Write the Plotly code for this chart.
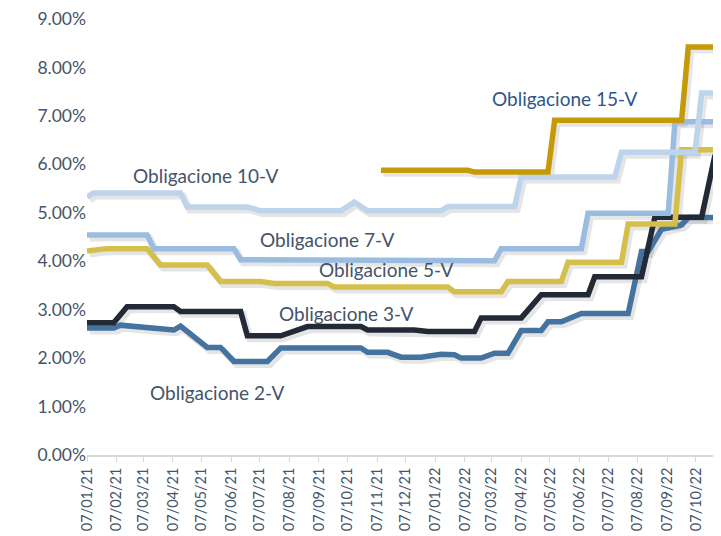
import plotly.graph_objects as go

# ---- data (yields in %, vertices) ----
d_2v = ["2021-01-07","2021-02-04","2021-02-11","2021-04-08","2021-04-15","2021-05-13","2021-05-27",
        "2021-06-10","2021-07-15","2021-07-29","2021-10-21","2021-10-28","2021-11-18","2021-12-02",
        "2021-12-23","2022-01-13","2022-01-27","2022-02-03","2022-02-24","2022-03-10","2022-03-24",
        "2022-04-07","2022-04-28","2022-05-05","2022-05-19","2022-06-09","2022-07-28","2022-08-11",
        "2022-08-18","2022-09-01","2022-09-22","2022-09-29","2022-10-27"]
v_2v = [2.62,2.62,2.68,2.58,2.66,2.22,2.22,1.93,1.93,2.21,2.21,2.12,2.12,2.02,2.02,2.08,2.07,2.00,
        2.00,2.10,2.10,2.57,2.57,2.75,2.75,2.92,2.92,4.20,4.20,4.66,4.75,4.90,4.90]

d_3v = ["2021-01-07","2021-02-04","2021-02-18","2021-04-08","2021-04-15","2021-06-17","2021-06-24",
        "2021-07-29","2021-08-26","2021-10-21","2021-10-28","2021-12-16","2021-12-30","2022-02-17",
        "2022-02-24","2022-04-07","2022-04-28","2022-06-16","2022-06-23","2022-08-11","2022-08-25",
        "2022-10-13","2022-10-27"]
v_3v = [2.73,2.73,3.06,3.06,2.96,2.96,2.46,2.46,2.65,2.65,2.58,2.58,2.55,2.55,2.83,2.83,3.31,3.31,
        3.68,3.68,4.91,4.91,6.19]

d_5v = ["2021-01-07","2021-01-28","2021-03-11","2021-03-25","2021-05-13","2021-05-27","2021-07-08",
        "2021-07-22","2021-09-16","2021-09-23","2022-01-20","2022-01-27","2022-03-17","2022-03-24",
        "2022-05-19","2022-05-26","2022-07-21","2022-07-28","2022-09-15","2022-09-22","2022-10-27"]
v_5v = [4.21,4.26,4.26,3.92,3.92,3.58,3.58,3.54,3.54,3.47,3.47,3.37,3.37,3.58,3.58,3.98,3.98,4.77,
        4.77,6.30,6.30]

d_7v = ["2021-01-07","2021-03-11","2021-03-18","2021-06-10","2021-06-17","2022-03-10","2022-03-17",
        "2022-06-09","2022-06-16","2022-09-08","2022-09-15","2022-10-27"]
v_7v = [4.54,4.54,4.26,4.26,4.03,4.01,4.26,4.26,4.99,4.99,6.88,6.88]

d_10v = ["2021-01-07","2021-01-14","2021-04-15","2021-04-22","2021-06-24","2021-07-08","2021-09-30",
         "2021-10-14","2021-10-28","2022-01-13","2022-01-20","2022-03-31","2022-04-07","2022-07-14",
         "2022-07-21","2022-10-06","2022-10-13","2022-10-27"]
v_10v = [5.33,5.41,5.41,5.12,5.12,5.04,5.04,5.22,5.04,5.04,5.13,5.13,5.74,5.74,6.25,6.25,7.47,7.47]

d_15v = ["2021-11-11","2022-02-10","2022-02-17","2022-05-05","2022-05-12","2022-09-22","2022-09-29",
         "2022-10-27"]
v_15v = [5.88,5.88,5.84,5.84,6.91,6.91,8.42,8.42]

series_names = ["Obligacione 2-V","Obligacione 3-V","Obligacione 5-V",
                "Obligacione 7-V","Obligacione 10-V","Obligacione 15-V"]
y_ticks = [0,1,2,3,4,5,6,7,8,9]
y_ticktext = ["0.00%","1.00%","2.00%","3.00%","4.00%","5.00%","6.00%","7.00%","8.00%","9.00%"]

# ---- styling ----
colors = ["#44739F", "#222A36", "#D5BF4B", "#9BBCE1", "#BED3EC", "#C49A06"]
data = [(d_2v, v_2v), (d_3v, v_3v), (d_5v, v_5v), (d_7v, v_7v), (d_10v, v_10v), (d_15v, v_15v)]

fig = go.Figure()
# soft drop shadows: same series drawn on a hidden base axis pair whose ranges are nudged
for (xs, ys), name in zip(data, series_names):
    fig.add_trace(go.Scatter(x=xs, y=ys, mode="lines", xaxis="x", yaxis="y",
                             line=dict(color="rgba(0,0,0,0.10)", width=7),
                             showlegend=False, hoverinfo="skip"))
# the visible series on the overlaying axis pair
for (xs, ys), name, col in zip(data, series_names, colors):
    fig.add_trace(go.Scatter(x=xs, y=ys, mode="lines", name=name, xaxis="x2", yaxis="y2",
                             line=dict(color=col, width=5.5), showlegend=False,
                             hoverinfo="x+y+name"))

label_pos = {
    "Obligacione 2-V": (0.207, 0.144),
    "Obligacione 3-V": (0.412, 0.324),
    "Obligacione 5-V": (0.476, 0.425),
    "Obligacione 7-V": (0.382, 0.495),
    "Obligacione 10-V": (0.188, 0.642),
    "Obligacione 15-V": (0.761, 0.817),
}
for name in series_names:
    px_, py_ = label_pos[name]
    fig.add_annotation(x=px_, y=py_, xref="paper", yref="paper", text=name, showarrow=False,
                       xanchor="center", yanchor="middle",
                       font=dict(family="Lato", size=19,
                                 color="#2E5788" if name.endswith("15-V") else "#44546A"))

fig.update_layout(
    width=713, height=528,
    margin=dict(l=79, r=6, t=11, b=81, pad=0, autoexpand=False),
    paper_bgcolor="white", plot_bgcolor="white",
    font=dict(family="Lato", color="#44546A"),
    xaxis=dict(type="date", range=["2021-01-04 08:00", "2022-10-24 08:00"], visible=False,
               showgrid=False, zeroline=False, automargin=False),
    yaxis=dict(range=[0.062, 9.062], visible=False, showgrid=False, zeroline=False,
               automargin=False),
    xaxis2=dict(
        type="date", range=["2021-01-07", "2022-10-27"], overlaying="x", anchor="y2",
        tick0="2021-01-07", dtick="M1", tickformat="%d/%m/%y", tickangle=-90,
        ticks="outside", ticklen=5, tickcolor="#D9D9D9", tickwidth=1.3,
        showline=True, linecolor="#D9D9D9", linewidth=1.6,
        showgrid=False, zeroline=False, automargin=False,
        tickfont=dict(family="Lato", size=14.5, color="#44546A"),
    ),
    yaxis2=dict(
        range=[0, 9], overlaying="y", anchor="x2", side="left",
        tickvals=y_ticks, ticktext=y_ticktext, ticklabeloverflow="allow",
        showgrid=False, zeroline=False, showline=False, ticks="", automargin=False,
        tickfont=dict(family="Lato", size=17.5, color="#44546A"),
    ),
)

fig.write_html("out.html")
